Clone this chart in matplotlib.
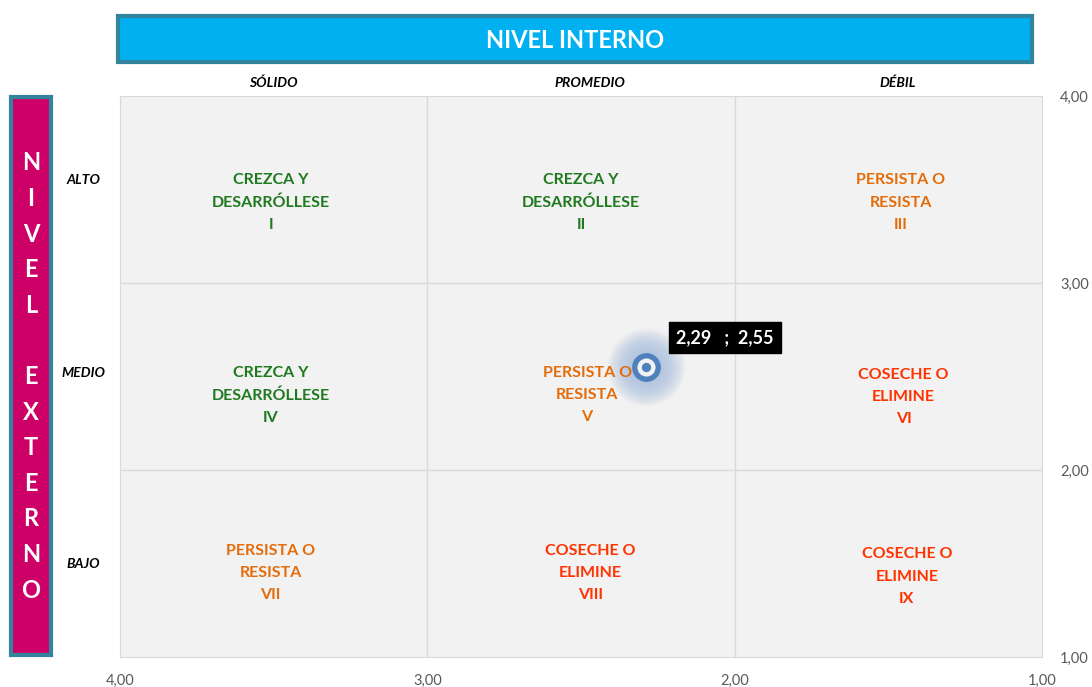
import matplotlib.pyplot as plt
from matplotlib.patches import Rectangle

# === DATOS ===
col_labels = ["SÓLIDO", "PROMEDIO", "DÉBIL"]
col_pos = [3.5, 2.47, 1.47]
row_labels = ["ALTO", "MEDIO", "BAJO"]
row_pos = [3.55, 2.52, 1.5]

cell_text = [
    ["CREZCA Y\nDESARRÓLLESE\nI", "CREZCA Y\nDESARRÓLLESE\nII", "PERSISTA O\nRESISTA\nIII"],
    ["CREZCA Y\nDESARRÓLLESE\nIV", "PERSISTA O\nRESISTA\nV", "COSECHE O\nELIMINE\nVI"],
    ["PERSISTA O\nRESISTA\nVII", "COSECHE O\nELIMINE\nVIII", "COSECHE O\nELIMINE\nIX"],
]
cell_x = [
    [3.51, 2.50, 1.46],
    [3.51, 2.48, 1.45],
    [3.51, 2.47, 1.44],
]
cell_y = [
    [3.43, 3.43, 3.43],
    [2.40, 2.40, 2.39],
    [1.45, 1.45, 1.43],
]
cell_color = [
    ["green", "green", "orange"],
    ["green", "orange", "red"],
    ["orange", "red", "red"],
]
palette = {"green": "#1F7A1F", "orange": "#E46C0A", "red": "#FF3300"}

ticks = [4, 3, 2, 1]
punto_x = [2.29]
punto_y = [2.55]

FONT = ["Lato", "DejaVu Sans"]
plt.rcParams["font.family"] = FONT

fig = plt.figure(figsize=(10.92, 6.87), dpi=100)
ax = fig.add_axes([120 / 1092, 1 - 657 / 687, 922 / 1092, 561 / 687])
ax.set_facecolor("#F2F2F2")
ax.set_xlim(4, 1)
ax.set_ylim(1, 4)
for s in ax.spines.values():
    s.set_color("#D9D9D9")
ax.set_xticks(ticks)
ax.set_yticks(ticks)
fmt = [f"{t:.2f}".replace(".", ",") for t in ticks]
ax.set_xticklabels(fmt, color="#595959", fontsize=10.5)
ax.set_yticklabels(fmt, color="#595959", fontsize=10.5)
ax.yaxis.tick_right()
ax.tick_params(length=0)
ax.tick_params(axis="y", pad=13)
ax.tick_params(axis="x", pad=12)
for v in [3, 2]:
    ax.axvline(v, color="#D9D9D9", lw=1)
    ax.axhline(v, color="#D9D9D9", lw=1)

# textos de celdas
for i, row in enumerate(cell_text):
    for j, txt in enumerate(row):
        ax.text(cell_x[i][j], cell_y[i][j], txt, ha="center", va="center",
                color=palette[cell_color[i][j]], fontsize=11.5, fontweight="bold",
                linespacing=1.75, zorder=4.5)

# encabezados de columnas y filas
for lbl, x in zip(col_labels, col_pos):
    ax.text(x, 4.07, lbl, ha="center", va="center", fontsize=10,
            fontweight="bold", style="italic", clip_on=False)
for lbl, y in zip(row_labels, row_pos):
    ax.text(4.12, y, lbl, ha="center", va="center", fontsize=10,
            fontweight="bold", style="italic", clip_on=False)

# punto con brillo difuso
for k in range(16):
    ax.scatter(punto_x, punto_y, s=420 + k * 180, color="#7FA3D3", alpha=0.045,
               lw=0, zorder=4)
ax.scatter(punto_x, punto_y, s=430, color="#4F81BD", lw=0, zorder=5)
ax.scatter(punto_x, punto_y, s=170, color="#F2F2F2", lw=0, zorder=6)
ax.scatter(punto_x, punto_y, s=45, color="#4F81BD", lw=0, zorder=7)
ax.annotate(f"{punto_x[0]:.2f}   ;  {punto_y[0]:.2f}".replace(".", ","),
            xy=(punto_x[0], punto_y[0]), xytext=(22, 21.5), textcoords="offset points",
            ha="left", va="center", color="white", fontsize=13, fontweight="bold",
            bbox=dict(boxstyle="square,pad=0.4", fc="black", ec="black"), zorder=8)

# barra superior
fig.patches.append(Rectangle((118 / 1092, 1 - 62 / 687), 914 / 1092, 46 / 687,
                             transform=fig.transFigure, fc="#00B0F0", ec="#31849B", lw=3))
fig.text(575 / 1092, 1 - 40 / 687, "NIVEL INTERNO", ha="center", va="center",
         color="white", fontsize=17, fontweight="bold")

# barra lateral
fig.patches.append(Rectangle((11 / 1092, 1 - 655 / 687), 40 / 1092, 558 / 687,
                             transform=fig.transFigure, fc="#CC0066", ec="#31849B", lw=3))
letras = list("NIVEL") + [""] + list("EXTERNO")
y0, dy = 163, 35.6
for k, ch in enumerate(letras):
    fig.text(31 / 1092, 1 - (y0 + k * dy) / 687, ch, ha="center", va="center",
             color="white", fontsize=17, fontweight="bold")

fig.savefig("out.png", dpi=100)
